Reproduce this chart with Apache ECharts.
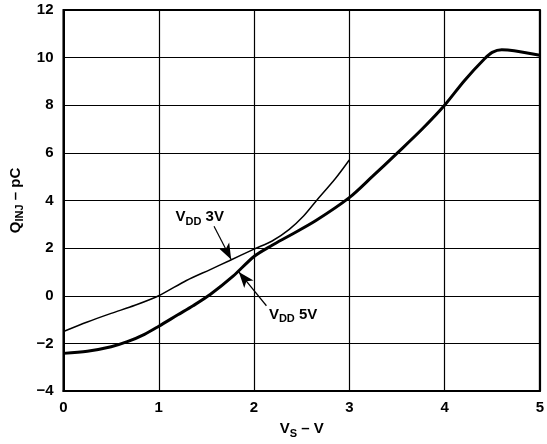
<!DOCTYPE html>
<html>
<head>
<meta charset="utf-8">
<script src="https://cdn.jsdelivr.net/npm/echarts@6/dist/echarts.min.js"></script>
<style>
  html, body { margin: 0; padding: 0; background: #fff; }
  #chart { width: 547px; height: 444px; }
</style>
</head>
<body>
<div id="chart"></div>
<script>
// Q_INJ vs V_S, two supply voltages
var vs5 = [0, 0.25, 0.5, 0.67, 0.85, 1.0, 1.2, 1.36, 1.54, 1.78, 2.0, 2.19, 2.37, 2.65, 3.0, 3.24, 3.5, 3.76, 4.0, 4.21, 4.42, 4.5, 4.6, 4.73, 5.0];
var q5  = [-2.42, -2.33, -2.14, -1.93, -1.62, -1.28, -0.8, -0.42, 0.05, 0.82, 1.65, 2.12, 2.52, 3.16, 4.12, 5.0, 5.98, 6.98, 8.0, 9.04, 9.95, 10.22, 10.33, 10.29, 10.1];

var vs3 = [0, 0.25, 0.5, 0.75, 1.0, 1.29, 1.54, 1.74, 2.0, 2.19, 2.37, 2.52, 2.65, 2.85, 3.0];
var q3  = [-1.5, -1.1, -0.74, -0.4, 0.0, 0.64, 1.1, 1.47, 1.96, 2.3, 2.79, 3.35, 3.97, 4.9, 5.7];

// annotation arrows: label position, tail, head
var note3 = { label: [1.43, 3.3], from: [1.58, 2.92], to: [1.76, 1.52] };
var note5 = { label: [2.41, -0.8], from: [2.13, -0.42], to: [1.84, 1.0] };

var font = '"Liberation Sans", Arial, Helvetica, sans-serif';

function pairs(xs, ys) {
	var out = [];
	for (var i = 0; i < xs.length; i++) out.push([xs[i], ys[i]]);
	return out;
}

function minus(v) {
	return v < 0 ? '\u2212' + Math.abs(v) : '' + v;
}

var rich = {
	v: { fontSize: 15, fontWeight: 'bold', fontFamily: font, color: '#000', lineHeight: 20, verticalAlign: 'middle' },
	s: { fontSize: 11, fontWeight: 'bold', fontFamily: font, color: '#000', lineHeight: 20, verticalAlign: 'bottom' }
};

function note(n, text) {
	return {
		markLine: {
			silent: true,
			symbol: ['none', 'arrow'],
			symbolSize: [9, 16],
			lineStyle: { color: '#000', width: 1.2, type: 'solid' },
			label: { show: false },
			data: [[{ coord: n.from }, { coord: n.to }]]
		},
		markPoint: {
			silent: true,
			symbol: 'circle',
			symbolSize: 0,
			label: { show: true, position: 'inside', formatter: text, rich: rich },
			data: [{ coord: n.label }]
		}
	};
}

var myChart = echarts.init(document.getElementById('chart'));

var s3 = {
	name: 'VDD 3V',
	type: 'line',
	data: pairs(vs3, q3),
	smooth: 0.3,
	showSymbol: false,
	z: 3,
	lineStyle: { color: '#000', width: 1.5 }
};
var n3 = note(note3, '{v|V}{s|DD}{v| 3V}');
s3.markLine = n3.markLine;
s3.markPoint = n3.markPoint;

var s5 = {
	name: 'VDD 5V',
	type: 'line',
	data: pairs(vs5, q5),
	smooth: 0.3,
	showSymbol: false,
	z: 4,
	lineStyle: { color: '#000', width: 3 }
};
var n5 = note(note5, '{v|V}{s|DD}{v| 5V}');
s5.markLine = n5.markLine;
s5.markPoint = n5.markPoint;

var option = {
	animation: false,
	backgroundColor: '#fff',
	grid: {
		left: 63, right: 5, top: 10, bottom: 51,
		show: true, borderColor: '#000', borderWidth: 2
	},
	xAxis: {
		type: 'value',
		min: 0, max: 5, interval: 1,
		axisLine: { show: true, onZero: false, lineStyle: { color: '#000', width: 2 } },
		axisTick: { show: false },
		splitLine: { show: true, lineStyle: { color: '#000', width: 1.2 } },
		axisLabel: { color: '#000', fontSize: 15, fontWeight: 'bold', fontFamily: font, margin: 9, formatter: minus },
		name: '{v|V}{s|S}{v| \u2013 V}',
		nameLocation: 'middle',
		nameGap: 28,
		nameTextStyle: { rich: rich }
	},
	yAxis: {
		type: 'value',
		min: -4, max: 12, interval: 2,
		axisLine: { show: true, onZero: false, lineStyle: { color: '#000', width: 2 } },
		axisTick: { show: false },
		splitLine: { show: true, lineStyle: { color: '#000', width: 1.2 } },
		axisLabel: { color: '#000', fontSize: 15, fontWeight: 'bold', fontFamily: font, margin: 10, formatter: minus },
		name: '{v|Q}{s|INJ}{v| \u2013 pC}',
		nameLocation: 'middle',
		nameGap: 34,
		nameTextStyle: { rich: rich }
	},
	series: [s3, s5]
};

myChart.setOption(option);
</script>
</body>
</html>
